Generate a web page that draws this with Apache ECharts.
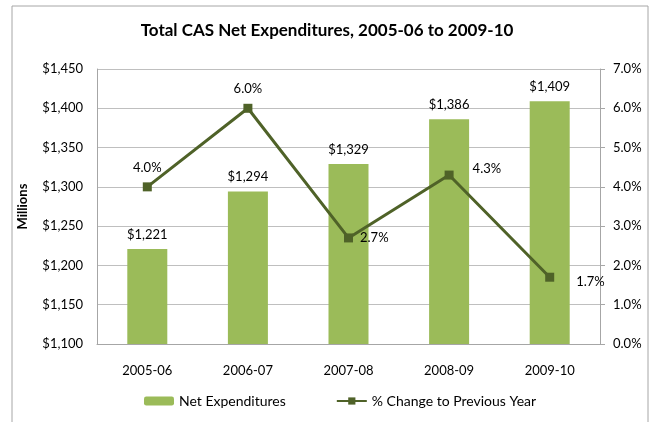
<!DOCTYPE html>
<html>
<head>
<meta charset="utf-8">
<script src="https://cdn.jsdelivr.net/npm/echarts@6/dist/echarts.min.js"></script>
<style>
  html, body { margin: 0; padding: 0; background: #fff; }
  #chart { width: 654px; height: 422px; }
</style>
</head>
<body>
<div id="chart"></div>
<script>
// data
const years = ['2005-06', '2006-07', '2007-08', '2008-09', '2009-10']
const netExpenditures = [1221, 1294, 1329, 1386, 1409]
const pctChange = [4.0, 6.0, 2.7, 4.3, 1.7]

// where each % label sits next to its point
const pctLabels = [
  { position: 'top', distance: 8 },
  { position: 'top', distance: 8 },
  { position: 'right', distance: 7 },
  { position: 'right', distance: 19, offset: [0, -6] },
  { position: 'right', distance: 22, offset: [0, 5] }
]

const font = 'Lato'
const chart = echarts.init(document.getElementById('chart'))

const option = {
  animation: false,
  textStyle: { fontFamily: font },
  // outer frame like the spreadsheet chart border
  graphic: [{
    type: 'rect',
    shape: { x: 12, y: 6, width: 636, height: 430 },
    style: { fill: 'none', stroke: '#a6a6a6', lineWidth: 1 },
    silent: true
  }],
  title: {
    text: 'Total CAS Net Expenditures, 2005-06 to 2009-10',
    left: 'center',
    top: 17,
    textStyle: { fontFamily: font, fontSize: 17, fontWeight: 'bold', color: '#000' }
  },
  grid: { left: 97, right: 54, top: 69, bottom: 78 },
  legend: {
    bottom: 9,
    left: 139,
    itemGap: 50,
    itemWidth: 30,
    itemHeight: 9,
    textStyle: { fontFamily: font, fontSize: 14, color: '#000' },
    data: ['Net Expenditures', '% Change to Previous Year']
  },
  xAxis: {
    type: 'category',
    data: years,
    axisLine: { lineStyle: { color: '#a6a6a6' } },
    axisTick: { show: false },
    axisLabel: { color: '#000', fontSize: 13, margin: 20 }
  },
  yAxis: [
    {
      type: 'value',
      min: 1100,
      max: 1450,
      interval: 50,
      name: 'Millions',
      nameLocation: 'middle',
      nameGap: 68,
      nameTextStyle: { fontFamily: font, fontSize: 13, fontWeight: 'bold', color: '#000' },
      axisLine: { show: true, lineStyle: { color: '#a6a6a6' } },
      axisTick: { show: false },
      splitLine: { lineStyle: { color: '#bfbfbf' } },
      axisLabel: {
        color: '#000', fontSize: 13, margin: 14,
        formatter: v => '$' + v.toLocaleString('en-US')
      }
    },
    {
      type: 'value',
      min: 0,
      max: 7,
      interval: 1,
      position: 'right',
      axisLine: { show: true, lineStyle: { color: '#a6a6a6' } },
      axisTick: { show: true, length: 5, lineStyle: { color: '#a6a6a6' } },
      splitLine: { show: false },
      axisLabel: { color: '#000', fontSize: 13, margin: 13, formatter: v => v.toFixed(1) + '%' }
    }
  ],
  series: [
    {
      name: 'Net Expenditures',
      type: 'bar',
      data: netExpenditures,
      barWidth: 40,
      itemStyle: { color: '#9bbb59' },
      label: {
        show: true,
        position: 'top',
        distance: 8,
        color: '#000',
        fontSize: 13,
        formatter: p => '$' + p.value.toLocaleString('en-US')
      }
    },
    {
      name: '% Change to Previous Year',
      type: 'line',
      yAxisIndex: 1,
      data: pctChange.map((v, i) => ({ value: v, label: pctLabels[i] })),
      symbol: 'rect',
      symbolSize: 9,
      lineStyle: { color: '#4f6228', width: 3 },
      itemStyle: { color: '#4f6228' },
      label: {
        show: true,
        color: '#000',
        fontSize: 13,
        formatter: p => p.value.toFixed(1) + '%'
      },
      z: 5
    }
  ]
}

chart.setOption(option)
</script>
</body>
</html>
